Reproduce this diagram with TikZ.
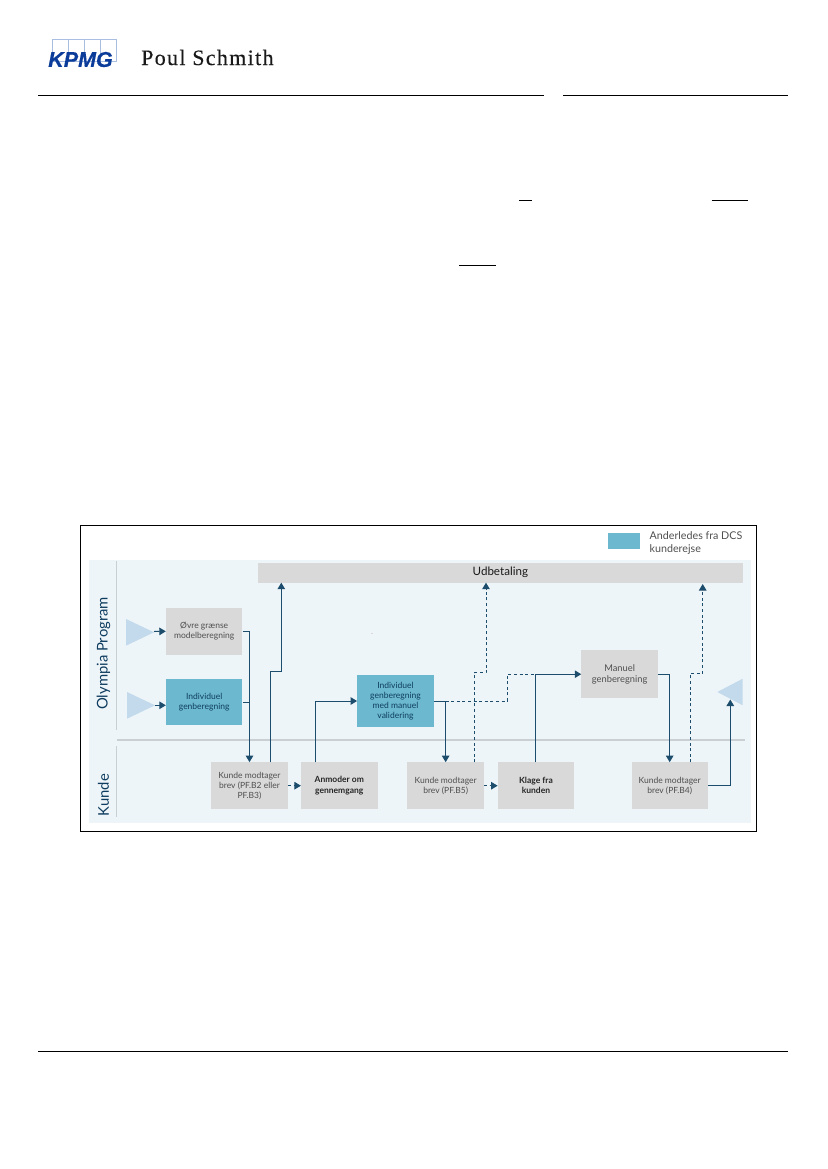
\documentclass[tikz,border=0pt]{standalone}
\usepackage{fontspec}
\setmainfont{Lato}
\newfontfamily\namefont[LetterSpace=6,FakeBold=0.25]{Liberation Serif}
\newfontfamily\logofont[FakeBold=0.4]{Liberation Sans}
\usetikzlibrary{arrows.meta}
\definecolor{panel}{HTML}{EEF5F9}
\definecolor{greybox}{HTML}{D9D9D9}
\definecolor{tealbox}{HTML}{6CB9CF}
\definecolor{tri}{HTML}{C2DAEB}
\definecolor{flowc}{HTML}{1D4D6C}
\definecolor{navy}{HTML}{0F3D5F}
\definecolor{txt}{HTML}{4F4F4F}
\definecolor{logoblue}{HTML}{0B3C9A}
\definecolor{logolight}{HTML}{A9BEE0}
\definecolor{sep}{HTML}{C9CFD3}
\tikzset{
  x=1pt,y=-1pt,
  basebox/.style={rectangle,inner sep=0pt,align=center,font=\fontsize{8.5}{10.2}\selectfont,text=txt,execute at begin node={\vspace*{3pt}}},
  gbox/.style={basebox,fill=greybox,minimum width=76.4pt,minimum height=46.7pt},
  tbox/.style={basebox,fill=tealbox,text=navy,minimum width=76.4pt,minimum height=46.7pt},
  dark/.style={text=black!85,font=\fontsize{8.5}{10.2}\selectfont\bfseries},
  flow/.style={draw=flowc,line width=1pt,-{Triangle[length=6.5pt,width=7.5pt]}},
  flowplain/.style={draw=flowc,line width=1pt},
  flowdash/.style={flow,dash pattern=on 3pt off 2.6pt},
  flowdashplain/.style={flowplain,dash pattern=on 3pt off 2.6pt},
  rulet/.style={draw=black,line width=0.9pt},
  lane/.style={rotate=90,font=\fontsize{14.8}{14.8}\selectfont,text=navy,inner sep=0pt},
  lanesep/.style={draw=sep,line width=0.7pt},
  logosq/.style={draw=logolight,fill=white,line width=1pt,minimum width=16pt,minimum height=22pt,inner sep=0pt},
}
\begin{document}
\begin{tikzpicture}
\useasboundingbox (0,0) rectangle (827,1169);
% header
\node[logosq] (lg1) at (60,51) {};
\node[logosq] (lg2) at (76,51) {};
\node[logosq] (lg3) at (92,51) {};
\node[logosq] (lg4) at (108,51) {};
\node[inner sep=0pt,text=logoblue,font=\fontsize{21.5}{21.5}\selectfont\logofont\bfseries\itshape] (kpmg) at (80.5,59.5) {KPMG};
\node[inner sep=0pt,anchor=west,text=black!90,font=\fontsize{22}{22}\selectfont\namefont] (name) at (141,57.5) {Poul Schmith};
\coordinate (r1a) at (38,95.7); \coordinate (r1b) at (544,95.7);
\coordinate (r2a) at (563,95.7); \coordinate (r2b) at (788,95.7);
\coordinate (r3a) at (38,1051); \coordinate (r3b) at (788,1051);
\draw[rulet] (r1a) -- (r1b);
\draw[rulet] (r2a) -- (r2b);
\draw[rulet] (r3a) -- (r3b);
\coordinate (u1a) at (519,200.3); \coordinate (u1b) at (531.7,200.3);
\coordinate (u2a) at (711.7,200.3); \coordinate (u2b) at (748.3,200.3);
\coordinate (u3a) at (459,265.3); \coordinate (u3b) at (495.5,265.3);
\draw[rulet] (u1a) -- (u1b);
\draw[rulet] (u2a) -- (u2b);
\draw[rulet] (u3a) -- (u3b);
% frame and panel
\draw[draw=black,line width=0.9pt] (80.5,525) rectangle (756,831.7);
\fill[panel] (89,560) rectangle (751,822.7);
\fill[black!15] (371.4,633) rectangle (372.6,634.2);
\draw[lanesep] (116.5,561) -- (116.5,730);
\draw[lanesep] (116.5,746) -- (116.5,816.7);
\draw[draw=sep,line width=1.2pt] (117,740) -- (745,740);
\node[lane] (olympia) at (103.5,653.5) {Olympia Program};
\node[lane] (kunde) at (103.5,795) {Kunde};
% legend
\node[fill=tealbox,minimum width=32pt,minimum height=16.3pt,inner sep=0pt] (legend) at (624,540.8) {};
\node[inner sep=0pt,anchor=west,align=left,text=txt,font=\fontsize{10.7}{13}\selectfont] (legendt) at (649.5,543) {Anderledes fra DCS\\kunderejse};
% triangles
\fill[tri] (126,619) -- (154,632.3) -- (126,645.7) -- cycle;
\coordinate (t1) at (154,631.5);
\fill[tri] (127,692) -- (155,705.3) -- (127,718.7) -- cycle;
\coordinate (t2) at (155,705.3);
\fill[tri] (742.7,678.7) -- (717.3,692) -- (742.7,705.3) -- cycle;
\coordinate (t3) at (730.3,699.5);
% boxes
\node[basebox,fill=greybox,minimum width=484.7pt,minimum height=20pt,text=black!90,font=\fontsize{11.6}{12}\selectfont,execute at begin node={}] (udb) at (500.35,572.7) {Udbetaling};
\node[gbox] (ovre) at (204.2,631.3) {Øvre grænse\\modelberegning};
\node[tbox] (indiv) at (204.2,702) {Individuel\\genberegning};
\node[gbox] (k1) at (249.5,785.7) {Kunde modtager\\brev (PF.B2 eller\\PF.B3)};
\node[gbox,dark] (anm) at (339.3,785.7) {Anmoder om\\gennemgang};
\node[tbox,minimum height=51.4pt] (ind2) at (395.5,701) {Individuel\\genberegning\\med manuel\\validering};
\node[gbox] (k5) at (445.65,785.7) {Kunde modtager\\brev (PF.B5)};
\node[gbox,dark] (klage) at (536,785.7) {Klage fra\\kunden};
\node[gbox,minimum height=48.3pt,font=\fontsize{9.3}{11.5}\selectfont] (man) at (619.65,674.2) {Manuel\\genberegning};
\node[gbox] (k4) at (669.7,785.7) {Kunde modtager\\brev (PF.B4)};
% helper points
\coordinate (k1up) at (270.3,762.3);
\coordinate (k1m1) at (270.3,671.3);
\coordinate (k1m2) at (281.3,671.3);
\coordinate (udb1) at (281.3,582.7);
\coordinate (anmup) at (315.3,762.3);
\coordinate (k5up) at (474.3,762.3);
\coordinate (k5m1) at (474.3,672.7);
\coordinate (k5m2) at (486,672.7);
\coordinate (udb2) at (486,582.7);
\coordinate (d1) at (507.3,701);
\coordinate (d2) at (507.3,674.2);
\coordinate (klup) at (535.7,762.3);
\coordinate (klm) at (535.7,674.2);
\coordinate (k4up) at (690.7,762.3);
\coordinate (k4m1) at (690.7,673.2);
\coordinate (k4m2) at (702.7,673.2);
\coordinate (udb3) at (702.7,584);
\coordinate (k4r) at (730.3,785.7);
% connectors
\draw[flow] (t1) -- (ovre.west);
\draw[flow] (t2) -- (indiv.west |- t2);
\draw[flow] (ovre.east) -| (k1.north);
\draw[flowplain] (indiv.east) -- (indiv.east -| k1.north);
\draw[flow] (k1up) -- (k1m1) -- (k1m2) -- (udb1);
\draw[flowdash] (k1.east) -- (anm.west);
\draw[flow] (anmup) |- (ind2.west);
\draw[flow] (ind2.east) -| (k5.north);
\draw[flowdashplain] (ind2.east -| k5.north) -- (d1) -- (d2) -- (klm);
\draw[flowdash] (k5up) -- (k5m1) -- (k5m2) -- (udb2);
\draw[flowdash] (k5.east) -- (klage.west);
\draw[flowplain] (klup) -- (klm);
\draw[flow] (klm) -- (man.west);
\draw[flow] (man.east) -| (k4.north);
\draw[flowdash] (k4up) -- (k4m1) -- (k4m2) -- (udb3);
\draw[flow] (k4.east) -- (k4r) -- (t3);
\end{tikzpicture}
\end{document}
